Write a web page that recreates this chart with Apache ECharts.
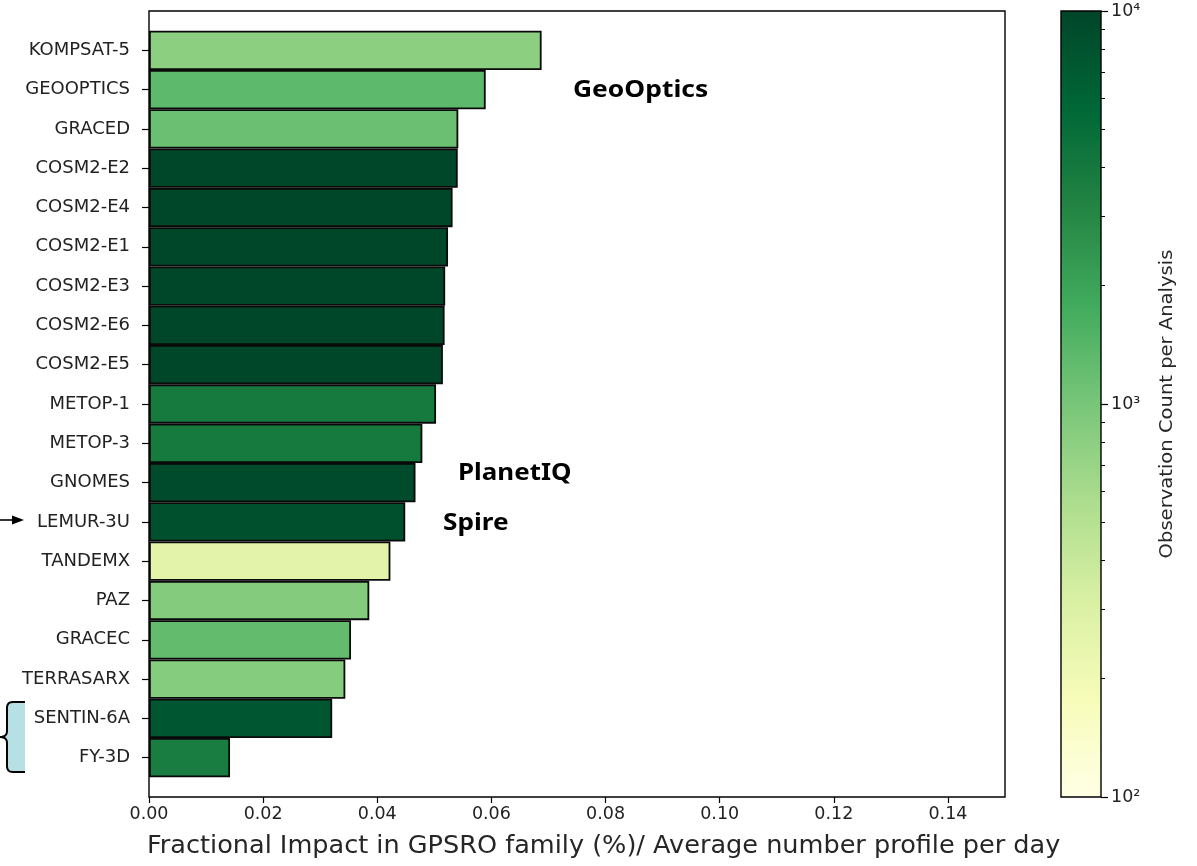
<!DOCTYPE html>
<html>
<head>
<meta charset="utf-8">
<script src="https://cdn.jsdelivr.net/npm/echarts@6/dist/echarts.min.js"></script>
<style>
  html, body { margin: 0; padding: 0; background: #fff; }
  #chart { width: 1197px; height: 866px; }
</style>
</head>
<body>
<div id="chart"></div>
<script>
// Satellites, top to bottom
const categories = ['KOMPSAT-5', 'GEOOPTICS', 'GRACED', 'COSM2-E2', 'COSM2-E4', 'COSM2-E1',
  'COSM2-E3', 'COSM2-E6', 'COSM2-E5', 'METOP-1', 'METOP-3', 'GNOMES', 'LEMUR-3U',
  'TANDEMX', 'PAZ', 'GRACEC', 'TERRASARX', 'SENTIN-6A', 'FY-3D'];
// Fractional impact per average daily profile
const impact = [0.0688, 0.0590, 0.0542, 0.0541, 0.0532, 0.0524, 0.0519, 0.0518, 0.0515,
  0.0503, 0.0479, 0.0467, 0.0449, 0.0423, 0.0386, 0.0354, 0.0344, 0.0321, 0.0142];
// Observation count per analysis (colour scale)
const obsCount = [800, 1320, 1150, 9700, 9700, 9700, 9700, 9700, 9700,
  3900, 3900, 9000, 8500, 260, 880, 1250, 860, 7600, 3700];

const xTicks = [0, 0.02, 0.04, 0.06, 0.08, 0.10, 0.12, 0.14];
const cbarMajor = [100, 1000, 10000];
const cbarMinor = [200, 300, 400, 500, 600, 700, 800, 900, 2000, 3000, 4000, 5000, 6000, 7000, 8000, 9000];
const supers = { 2: '\u00b2', 3: '\u00b3', 4: '\u2074' };

// YlGn colour map, low to high
const YLGN = ['#ffffe5', '#f7fcb9', '#d9f0a3', '#addd8e', '#78c679', '#41ab5d', '#238443', '#006837', '#004529'];

const FONT = 'DejaVu Sans';
const plot = { left: 149, top: 11, width: 856, height: 786 };
const unit = plot.height / (categories.length + 1);   // half a row of padding at each end
const cbar = { left: 1061, top: 11, width: 40, height: 786 };

// curly bracket outline, sampled from quadratic curves
function quad(p0, p1, p2, n) {
  const pts = [];
  for (let k = 1; k <= n; k++) {
    const t = k / n, u = 1 - t;
    pts.push([u * u * p0[0] + 2 * u * t * p1[0] + t * t * p2[0],
              u * u * p0[1] + 2 * u * t * p1[1] + t * t * p2[1]]);
  }
  return pts;
}
const bracePts = [[25, 702], [13, 702]]
  .concat(quad([13, 702], [7, 702], [7, 708], 6))
  .concat([[7, 731]])
  .concat(quad([7, 731], [7, 737], [0, 737], 6))
  .concat(quad([0, 737], [7, 737], [7, 743], 6))
  .concat([[7, 766]])
  .concat(quad([7, 766], [7, 772], [13, 772], 6))
  .concat([[25, 772]]);

const chart = echarts.init(document.getElementById('chart'), null, { renderer: 'canvas' });

const barData = impact.map((v, i) => [v, categories[i], Math.log10(obsCount[i])]);

chart.setOption({
  animation: false,
  backgroundColor: '#ffffff',
  grid: [
    { left: plot.left, top: plot.top + unit / 2, width: plot.width, height: unit * categories.length },
    { left: cbar.left, top: cbar.top, width: cbar.width, height: cbar.height }
  ],
  xAxis: [
    {
      gridIndex: 0, type: 'value', min: 0, max: 0.15, interval: 0.02,
      offset: unit / 2,
      axisLine: { show: false },
      splitLine: { show: false },
      axisTick: { show: true, length: 6, lineStyle: { color: '#000', width: 1.2 }, customValues: xTicks },
      axisLabel: {
        customValues: xTicks, formatter: v => v.toFixed(2),
        color: '#222', fontFamily: FONT, fontSize: 17.5, margin: 8
      }
    },
    { gridIndex: 1, type: 'category', data: ['c'], show: false }
  ],
  yAxis: [
    {
      gridIndex: 0, type: 'category', data: categories, inverse: true,
      axisLine: { show: false },
      axisTick: { show: true, alignWithLabel: true, length: 7, lineStyle: { color: '#000', width: 1.2 } },
      axisLabel: { color: '#222', fontFamily: FONT, fontSize: 18, margin: 19 }
    },
    {
      gridIndex: 1, type: 'value', min: 2, max: 4, position: 'right',
      axisLine: { show: false }, splitLine: { show: false },
      axisTick: { show: true, length: 7, lineStyle: { color: '#000', width: 1.2 },
        customValues: cbarMajor.map(Math.log10) },
      axisLabel: {
        customValues: cbarMajor.map(Math.log10),
        formatter: v => '10' + supers[Math.round(v)],
        color: '#222', fontFamily: FONT, fontSize: 17.5, margin: 10
      }
    },
    {
      gridIndex: 1, type: 'value', min: 2, max: 4, position: 'right',
      axisLine: { show: false }, splitLine: { show: false },
      axisTick: { show: true, length: 4, lineStyle: { color: '#000', width: 1 },
        customValues: cbarMinor.map(Math.log10) },
      axisLabel: { show: false }
    }
  ],
  visualMap: {
    type: 'continuous', show: false, seriesIndex: 0, dimension: 2,
    min: 2, max: 4, inRange: { color: YLGN }
  },
  series: [{
    type: 'bar',
    xAxisIndex: 0, yAxisIndex: 0,
    data: barData,
    encode: { x: 0, y: 1 },
    barWidth: '100%',
    itemStyle: { borderColor: '#0a0a0a', borderWidth: 1.8 }
  }],
  graphic: [
    // plot frame
    { type: 'rect', z: 50, silent: true,
      shape: { x: plot.left, y: plot.top, width: plot.width, height: plot.height },
      style: { fill: null, stroke: '#000', lineWidth: 1.4 } },
    // colour bar
    { type: 'rect', z: 5, silent: true,
      shape: { x: cbar.left, y: cbar.top, width: cbar.width, height: cbar.height },
      style: {
        fill: new echarts.graphic.LinearGradient(0, 1, 0, 0,
          YLGN.map((c, i) => ({ offset: i / (YLGN.length - 1), color: c }))),
        stroke: '#000', lineWidth: 1.4
      } },
    { type: 'text', z: 50, silent: true,
      x: 1168, y: cbar.top + cbar.height / 2, rotation: Math.PI / 2, scaleX: 1.15,
      style: { text: 'Observation Count per Analysis', font: '17px "DejaVu Sans"',
        fill: '#262626', align: 'center', verticalAlign: 'middle' } },
    // x axis title
    { type: 'text', z: 50, silent: true, x: 147, y: 846, scaleX: 1.022,
      style: { text: 'Fractional Impact in GPSRO family (%)/ Average number profile per day',
        font: '25px "DejaVu Sans"', fill: '#262626', align: 'left', verticalAlign: 'middle' } },
    // provider labels
    { type: 'text', z: 50, silent: true, x: 573, y: 90, scaleX: 1.1,
      style: { text: 'GeoOptics', font: 'bold 24px "Noto Sans"', fill: '#000',
        align: 'left', verticalAlign: 'middle' } },
    { type: 'text', z: 50, silent: true, x: 458, y: 473, scaleX: 1.08,
      style: { text: 'PlanetIQ', font: 'bold 24px "Noto Sans"', fill: '#000',
        align: 'left', verticalAlign: 'middle' } },
    { type: 'text', z: 50, silent: true, x: 443, y: 523, scaleX: 1.09,
      style: { text: 'Spire', font: 'bold 24px "Noto Sans"', fill: '#000',
        align: 'left', verticalAlign: 'middle' } },
    // pointer arrow
    { type: 'line', z: 50, silent: true,
      shape: { x1: 0, y1: 520, x2: 16, y2: 520 }, style: { stroke: '#000', lineWidth: 1.6 } },
    { type: 'polygon', z: 50, silent: true,
      shape: { points: [[12, 515.5], [24, 520], [12, 524.5]] }, style: { fill: '#000' } },
    // bracket
    { type: 'polygon', z: 49, silent: true,
      shape: { points: bracePts }, style: { fill: '#b7e0e4' } },
    { type: 'polyline', z: 50, silent: true,
      shape: { points: bracePts }, style: { stroke: '#000', lineWidth: 2, fill: null } }
  ]
});
</script>
</body>
</html>
